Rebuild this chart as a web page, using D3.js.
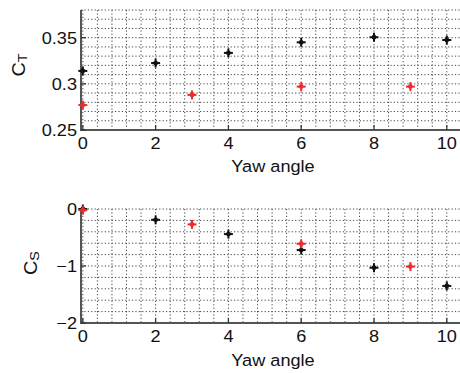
<!DOCTYPE html>
<html>
<head>
<meta charset="utf-8">
<script src="https://cdn.jsdelivr.net/npm/d3@7"></script>
<style>
  html, body { margin: 0; padding: 0; background: #fff; }
  svg { display: block; }
  text { font-family: "Liberation Sans", Arial, Helvetica, sans-serif; fill: #111; }
</style>
</head>
<body>
<svg id="chart" width="460" height="373"></svg>
<script>
// Thrust coefficient (C_T) and side-force coefficient (C_S) vs yaw angle
const yawBlack = [0, 2, 4, 6, 8, 10];
const yawRed = [0, 3, 6, 9];
const ctBlack = [0.314, 0.3225, 0.3335, 0.345, 0.3505, 0.3475];
const ctRed = [0.277, 0.288, 0.297, 0.297];
const csBlack = [0, -0.19, -0.44, -0.72, -1.03, -1.35];
const csRed = [-0.02, -0.27, -0.61, -1.01];

const xTicks = [0, 2, 4, 6, 8, 10];
const ctTicks = [0.25, 0.3, 0.35];
const ctTickLabels = ["0.25", "0.3", "0.35"];
const csTicks = [-2, -1, 0];
const csTickLabels = ["\u22122", "\u22121", "0"];

const svg = d3.select("#chart");
const TX = 1.1; // horizontal text stretch

const x = d3.scaleLinear().domain([-0.05, 10.5]).range([81, 465]);

function stretchedText(g, px, py, str, anchor) {
  return g.append("text")
    .attr("transform", `translate(${px},${py}) scale(${TX},1)`)
    .attr("text-anchor", anchor)
    .style("font-size", "16.5px")
    .text(str);
}

function panel(opts) {
  const { y, yMinorStep, yTicks, yLabels, blackVals, redVals, label, sub, labelX, labelY, xLabelY } = opts;
  const g = svg.append("g");
  const [y0, y1] = y.domain();
  const top = y.range()[1], bottom = y.range()[0];
  const left = x.range()[0], right = x.range()[1];

  // minor grid (dotted)
  const xMinor = d3.range(0, 10.5 + 1e-9, 0.4);
  const yMinor = d3.range(0, Math.round((y1 - y0) / yMinorStep) + 1).map(i => y0 + i * yMinorStep);
  const grid = g.append("g").attr("stroke", "#444").attr("stroke-width", 1)
    .attr("stroke-dasharray", "1.2,2.2");
  grid.selectAll(".gx").data(xMinor).join("line")
    .attr("x1", d => x(d)).attr("x2", d => x(d)).attr("y1", top).attr("y2", bottom);
  grid.selectAll(".gy").data(yMinor.filter(v => v > y0 + 1e-9)).join("line")
    .attr("x1", left).attr("x2", right).attr("y1", d => y(d)).attr("y2", d => y(d));

  // axes lines
  const ax = g.append("g").attr("stroke", "#555").attr("stroke-width", 2);
  ax.append("line").attr("x1", left).attr("x2", left).attr("y1", top).attr("y2", bottom + 1);
  ax.append("line").attr("x1", left - 1).attr("x2", right).attr("y1", bottom).attr("y2", bottom);

  // major ticks (inward)
  const tk = g.append("g").attr("stroke", "#333").attr("stroke-width", 1.3);
  tk.selectAll(".tx").data(xTicks).join("line")
    .attr("x1", d => x(d)).attr("x2", d => x(d)).attr("y1", bottom).attr("y2", bottom - 5);
  tk.selectAll(".ty").data(yTicks).join("line")
    .attr("x1", left).attr("x2", left + 5).attr("y1", d => y(d)).attr("y2", d => y(d));

  // tick labels
  xTicks.forEach(v => stretchedText(g, x(v), bottom + 19, String(v), "middle"));
  yTicks.forEach((v, i) => stretchedText(g, left - 4, y(v) + 6, yLabels[i], "end"));

  // x label
  stretchedText(g, 273, xLabelY, "Yaw angle", "middle");

  // y label with subscript, rotated
  const yl = g.append("text")
    .attr("transform", `translate(${labelX},${labelY}) rotate(-90) scale(${TX},1)`)
    .attr("text-anchor", "middle")
    .style("font-size", "18px");
  yl.append("tspan").text(label);
  yl.append("tspan").attr("dy", 2).style("font-size", "13px").text(sub);

  // markers
  const star = (sel, color) => {
    sel.append("line").attr("x1", -4.5).attr("x2", 4.5).attr("y1", 0).attr("y2", 0)
      .attr("stroke", color).attr("stroke-width", 2);
    sel.append("line").attr("x1", 0).attr("x2", 0).attr("y1", -4.5).attr("y2", 4.5)
      .attr("stroke", color).attr("stroke-width", 2);
    sel.append("circle").attr("r", 2.4).attr("fill", color);
  };
  g.selectAll(".mb").data(yawBlack.map((v, i) => [v, blackVals[i]])).join("g")
    .attr("transform", d => `translate(${x(d[0])},${y(d[1])})`)
    .each(function () { star(d3.select(this), "#111"); });
  g.selectAll(".mr").data(yawRed.map((v, i) => [v, redVals[i]])).join("g")
    .attr("transform", d => `translate(${x(d[0])},${y(d[1])})`)
    .each(function () { star(d3.select(this), "#ee2a2a"); });
}

panel({
  y: d3.scaleLinear().domain([0.25, 0.38]).range([130, 10]),
  yMinorStep: 0.01,
  yTicks: ctTicks, yLabels: ctTickLabels,
  blackVals: ctBlack, redVals: ctRed,
  label: "C", sub: "T", labelX: 25, labelY: 65, xLabelY: 172
});

panel({
  y: d3.scaleLinear().domain([-2, 0]).range([323, 209]),
  yMinorStep: 0.2,
  yTicks: csTicks, yLabels: csTickLabels,
  blackVals: csBlack, redVals: csRed,
  label: "C", sub: "S", labelX: 37, labelY: 263, xLabelY: 366
});
</script>
</body>
</html>
